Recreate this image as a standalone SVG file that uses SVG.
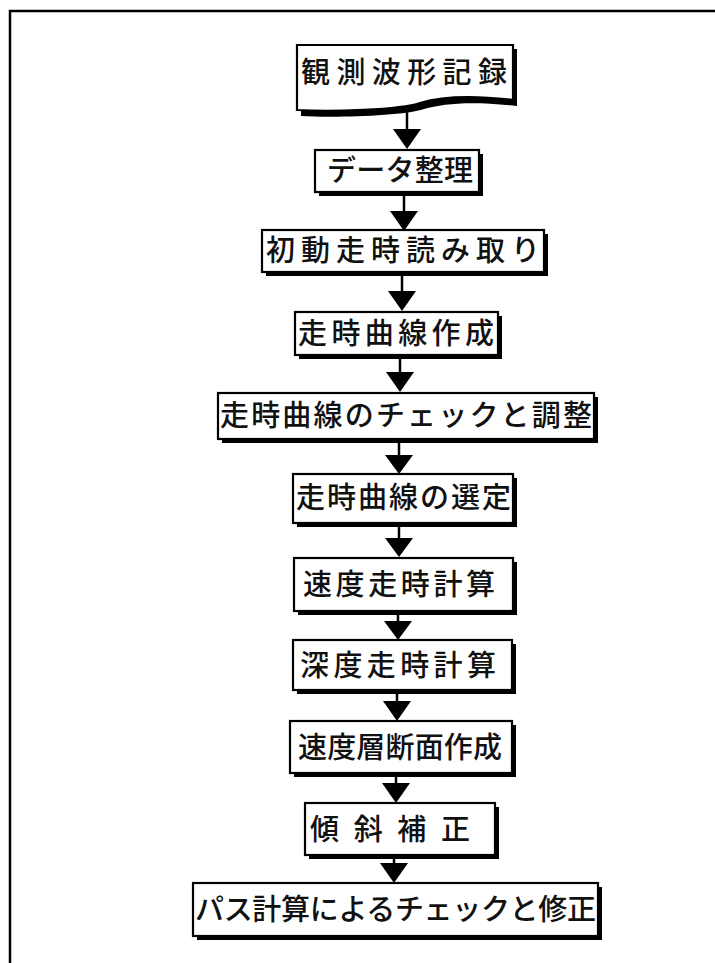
<svg xmlns="http://www.w3.org/2000/svg" width="715" height="963" viewBox="0 0 715 963">
<defs>
<style>
.box{fill:#fff;stroke:#000;stroke-width:2.2}
.sh{fill:#000}
.t{font-family:"Noto Sans CJK JP","Noto Sans CJK SC",sans-serif;font-size:29px;font-weight:500;fill:#111}
.ln{stroke:#000;stroke-width:2.5;fill:none}
.ah{fill:#000}
</style>
</defs>
<rect x="0" y="0" width="715" height="963" fill="#fff"/>
<path d="M10,963 V11 H715" fill="none" stroke="#000" stroke-width="2.5"/>

<g id="connectors">
<line class="ln" x1="407" y1="108" x2="407" y2="132"/><polygon class="ah" points="393,129 421,129 407,149"/>
<line class="ln" x1="404" y1="195" x2="404" y2="214"/><polygon class="ah" points="390,211 418,211 404,231"/>
<line class="ln" x1="402" y1="275" x2="402" y2="294"/><polygon class="ah" points="388,291 416,291 402,311"/>
<line class="ln" x1="400" y1="358" x2="400" y2="374"/><polygon class="ah" points="386,372 414,372 400,392"/>
<line class="ln" x1="399" y1="442" x2="399" y2="457"/><polygon class="ah" points="385,455 413,455 399,474"/>
<line class="ln" x1="399" y1="527" x2="399" y2="540"/><polygon class="ah" points="385,538 413,538 399,557"/>
<line class="ln" x1="398" y1="614" x2="398" y2="623"/><polygon class="ah" points="384,621 412,621 398,640"/>
<line class="ln" x1="397" y1="693" x2="397" y2="704"/><polygon class="ah" points="383,701 411,701 397,721"/>
<line class="ln" x1="396" y1="776" x2="396" y2="786"/><polygon class="ah" points="382,783 410,783 396,803"/>
<line class="ln" x1="394" y1="858" x2="394" y2="866"/><polygon class="ah" points="380,863 408,863 394,883"/>
</g>

<g id="n1">
<path class="sh" d="M301,49 L517,49 L517,106 C474,101 444,103 424,109 C404,116 334,118 301,116 Z"/>
<path class="box" d="M297,45 L513,45 L513,100 C470,95 440,97 420,103 C400,110 330,112 297,110 Z"/>
<text class="t" x="301" y="83" textLength="206" lengthAdjust="spacing">観測波形記録</text>
</g>

<g id="n2">
<rect class="sh" x="319" y="154" width="164" height="42"/>
<rect class="box" x="315" y="150" width="164" height="42"/>
<text class="t" x="327" y="181" textLength="146" lengthAdjust="spacing">データ整理</text>
</g>

<g id="n3">
<rect class="sh" x="266" y="234" width="282" height="42"/>
<rect class="box" x="262" y="230" width="282" height="42"/>
<text class="t" x="266" y="261" textLength="274" lengthAdjust="spacing">初動走時読み取り</text>
</g>

<g id="n4">
<rect class="sh" x="299" y="316" width="203" height="43"/>
<rect class="box" x="295" y="312" width="203" height="43"/>
<text class="t" x="298" y="344" textLength="196" lengthAdjust="spacing">走時曲線作成</text>
</g>

<g id="n5">
<rect class="sh" x="222" y="397" width="376" height="46"/>
<rect class="box" x="218" y="393" width="376" height="46"/>
<text class="t" x="220" y="426" textLength="372" lengthAdjust="spacing">走時曲線のチェックと調整</text>
</g>

<g id="n6">
<rect class="sh" x="297" y="478" width="220" height="49"/>
<rect class="box" x="293" y="474" width="220" height="49"/>
<text class="t" x="296" y="508" textLength="215" lengthAdjust="spacing">走時曲線の選定</text>
</g>

<g id="n7">
<rect class="sh" x="298" y="562" width="219" height="53"/>
<rect class="box" x="294" y="558" width="219" height="53"/>
<text class="t" x="303" y="595" textLength="192" lengthAdjust="spacing">速度走時計算</text>
</g>

<g id="n8">
<rect class="sh" x="297" y="644" width="219" height="50"/>
<rect class="box" x="293" y="640" width="219" height="50"/>
<text class="t" x="300" y="676" textLength="196" lengthAdjust="spacing">深度走時計算</text>
</g>

<g id="n9">
<rect class="sh" x="294" y="725" width="222" height="52"/>
<rect class="box" x="290" y="721" width="222" height="52"/>
<text class="t" x="298" y="758" textLength="204" lengthAdjust="spacing">速度層断面作成</text>
</g>

<g id="n10">
<rect class="sh" x="309" y="807" width="190" height="52"/>
<rect class="box" x="305" y="803" width="190" height="52"/>
<text class="t" x="310" y="840" textLength="160" lengthAdjust="spacing">傾斜補正</text>
</g>

<g id="n11">
<rect class="sh" x="197" y="887" width="405" height="53"/>
<rect class="box" x="193" y="883" width="405" height="53"/>
<text class="t" x="195" y="920" textLength="401" lengthAdjust="spacing">パス計算によるチェックと修正</text>
</g>
</svg>
